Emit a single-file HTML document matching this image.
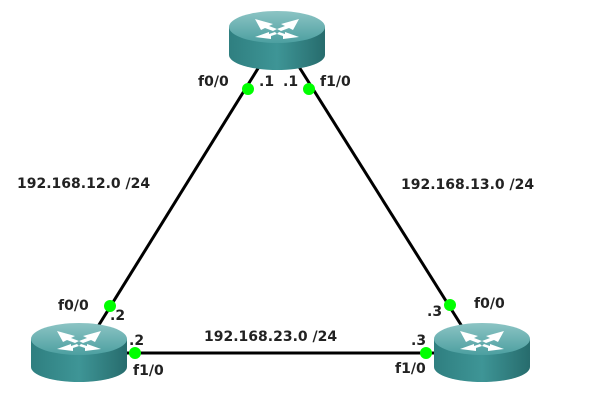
<!DOCTYPE html>
<html><head><style>body{margin:0;background:#fff}svg{display:block}text{font-family:"DejaVu Sans","Liberation Sans",sans-serif;font-weight:bold;font-size:14px;fill:#222}</style></head><body>
<svg width="600" height="400" viewBox="0 0 600 400">
<defs>
<linearGradient id="b" x1="0" x2="1"><stop offset="0" stop-color="#2f7f80"/><stop offset="0.5" stop-color="#3e9596"/><stop offset="1" stop-color="#276c6d"/></linearGradient>
<linearGradient id="t" x1="0" y1="0" x2="0" y2="1"><stop offset="0" stop-color="#8cc4c4"/><stop offset="1" stop-color="#4c9fa0"/></linearGradient>
<g id="r">
<path d="M0,17 L0,45 A48,15 0 0 0 96,45 L96,17 Z" fill="url(#b)"/>
<ellipse cx="48" cy="17" rx="48" ry="16" fill="url(#t)"/>
<g fill="#fff">
<polygon points="26,9 44,14 40,16 48,19 44,21 36,18 32,20"/>
<polygon points="70,9 52,14 56,16 48,19 52,21 60,18 64,20"/>
<polygon points="26,27 40,22 40,24 46,22 48,24 42,26 42,29"/>
<polygon points="70,27 56,22 56,24 50,22 48,24 54,26 54,29"/>
</g>
</g>
</defs>
<g stroke="#000" stroke-width="3">
<line x1="262" y1="62" x2="97" y2="328"/>
<line x1="296" y1="62" x2="463" y2="328"/>
<line x1="120" y1="353" x2="440" y2="353"/>
</g>
<use href="#r" x="229" y="10"/>
<use href="#r" x="31" y="322"/>
<use href="#r" x="434" y="322"/>
<g fill="#0f0">
<circle cx="248" cy="89" r="6"/><circle cx="309" cy="89" r="6"/>
<circle cx="110" cy="306" r="6"/><circle cx="450" cy="305" r="6"/>
<circle cx="135" cy="353" r="6"/><circle cx="426" cy="353" r="6"/>
</g>
<text x="198" y="86">f0/0</text><text x="259" y="86">.1</text><text x="283" y="86">.1</text><text x="320" y="86">f1/0</text>
<text x="17" y="188">192.168.12.0 /24</text>
<text x="401" y="189">192.168.13.0 /24</text>
<text x="58" y="310">f0/0</text><text x="110" y="320">.2</text>
<text x="427" y="316">.3</text><text x="474" y="308">f0/0</text>
<text x="204" y="341">192.168.23.0 /24</text>
<text x="129" y="345">.2</text><text x="411" y="345">.3</text>
<text x="133" y="375">f1/0</text><text x="395" y="373">f1/0</text>
</svg>
</body></html>
